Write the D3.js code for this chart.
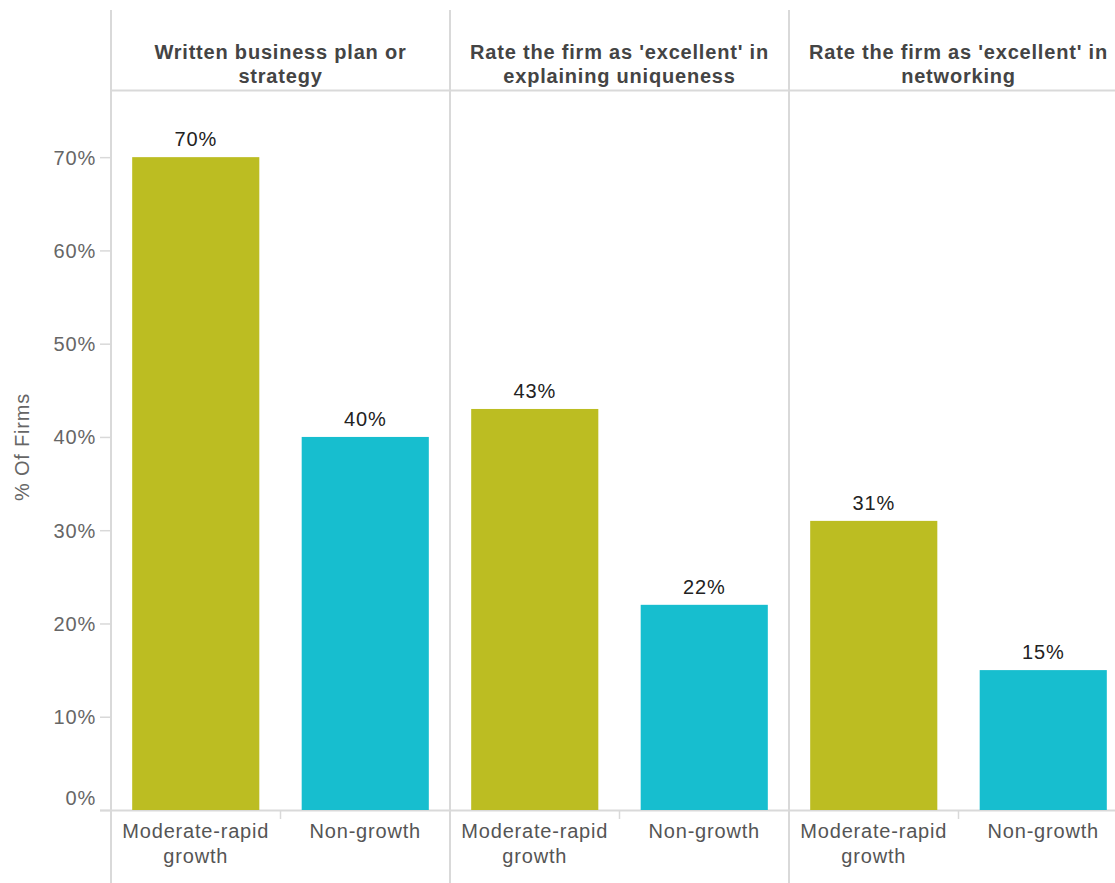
<!DOCTYPE html>
<html>
<head>
<meta charset="utf-8">
<script src="https://cdn.jsdelivr.net/npm/d3@7"></script>
<style>
  html, body { margin: 0; padding: 0; background: #fff; overflow: hidden; }
  svg { display: block; font-family: "Liberation Sans", Arial, sans-serif; }
  text { letter-spacing: 0.8px; }
</style>
</head>
<body>
<svg id="chart" width="1115" height="883"></svg>
<script>
// ---- Data ----
const panels = [
  ["Written business plan or", "strategy"],
  ["Rate the firm as 'excellent' in", "explaining uniqueness"],
  ["Rate the firm as 'excellent' in", "networking"]
];
const groups = ["Moderate-rapid growth", "Non-growth"];
const groupLabels = [["Moderate-rapid", "growth"], ["Non-growth"]];
const growthValues = [0.70, 0.43, 0.31];
const nonGrowthValues = [0.40, 0.22, 0.15];
const yTicks = [0, 0.1, 0.2, 0.3, 0.4, 0.5, 0.6, 0.7];
const colors = ["#bcbd22", "#17becf"];
const yTitle = "% Of Firms";

// ---- Layout ----
const svg = d3.select("#chart");
const left = 111, panelW = 339, headerTop = 10, headerBottom = 90, baseY = 810, bottom = 883;
const gridColor = "#d9d9d9";

const panelScale = d3.scaleBand().domain(d3.range(panels.length)).range([left, left + panelW * panels.length]).padding(0);
const x = d3.scaleBand().domain(groups).range([0, panelW]).paddingInner(0.25).paddingOuter(0.125);
const y = d3.scaleLinear().domain([0, 0.772]).range([baseY, headerBottom]);

// Grid/frame lines
svg.append("line").attr("x1", 100).attr("x2", 1115).attr("y1", baseY + 0.5).attr("y2", baseY + 0.5)
  .attr("stroke", gridColor).attr("stroke-width", 2);
svg.append("line").attr("x1", left).attr("x2", 1115).attr("y1", headerBottom + 0.5).attr("y2", headerBottom + 0.5)
  .attr("stroke", gridColor).attr("stroke-width", 2);
panels.forEach((p, i) => {
  const px = panelScale(i);
  svg.append("line").attr("x1", px).attr("x2", px).attr("y1", headerTop).attr("y2", bottom)
    .attr("stroke", gridColor).attr("stroke-width", 2);
});

// Y axis
const yAxis = d3.axisLeft(y).tickValues(yTicks).tickFormat(d3.format(".0%")).tickSize(11).tickPadding(4);
const gy = svg.append("g").attr("transform", `translate(${left},0)`).call(yAxis);
gy.select(".domain").remove();
gy.selectAll(".tick line").attr("stroke", gridColor).attr("stroke-width", 1.5);
gy.selectAll(".tick text").attr("fill", "#666").attr("font-size", 20)
  .attr("font-family", "Liberation Sans, Arial, sans-serif")
  .attr("dy", d => d === 0 ? "-0.3em" : "0.35em");

// Y title
svg.append("text").attr("transform", `translate(29,447) rotate(-90)`)
  .attr("text-anchor", "middle").attr("fill", "#666").attr("font-size", 20).text(yTitle);

// Panels
panels.forEach((p, i) => {
  const px = panelScale(i);
  const g = svg.append("g").attr("transform", `translate(${px},0)`);
  // header
  const ht = g.append("text").attr("text-anchor", "middle").attr("fill", "#444")
    .attr("font-size", 20).attr("font-weight", "bold");
  p.forEach((line, li) => {
    ht.append("tspan").attr("x", panelW / 2).attr("y", 59 + li * 24).text(line);
  });
  // bars
  const vals = [growthValues[i], nonGrowthValues[i]];
  groups.forEach((gname, gi) => {
    g.append("rect").attr("x", x(gname)).attr("width", x.bandwidth())
      .attr("y", y(vals[gi])).attr("height", baseY - y(vals[gi])).attr("fill", colors[gi]);
    g.append("text").attr("x", x(gname) + x.bandwidth() / 2).attr("y", y(vals[gi]) - 11)
      .attr("text-anchor", "middle").attr("fill", "#222").attr("font-size", 20)
      .text(d3.format(".0%")(vals[gi]));
    // category label
    const ct = g.append("text").attr("text-anchor", "middle").attr("fill", "#555").attr("font-size", 20);
    groupLabels[gi].forEach((line, li) => {
      ct.append("tspan").attr("x", x(gname) + x.bandwidth() / 2).attr("y", 838 + li * 25).text(line);
    });
  });
  // middle tick between categories
  const mid = panelW / 2;
  g.append("line").attr("x1", mid).attr("x2", mid).attr("y1", baseY).attr("y2", baseY + 9)
    .attr("stroke", gridColor).attr("stroke-width", 1.5);
});
</script>
</body>
</html>
